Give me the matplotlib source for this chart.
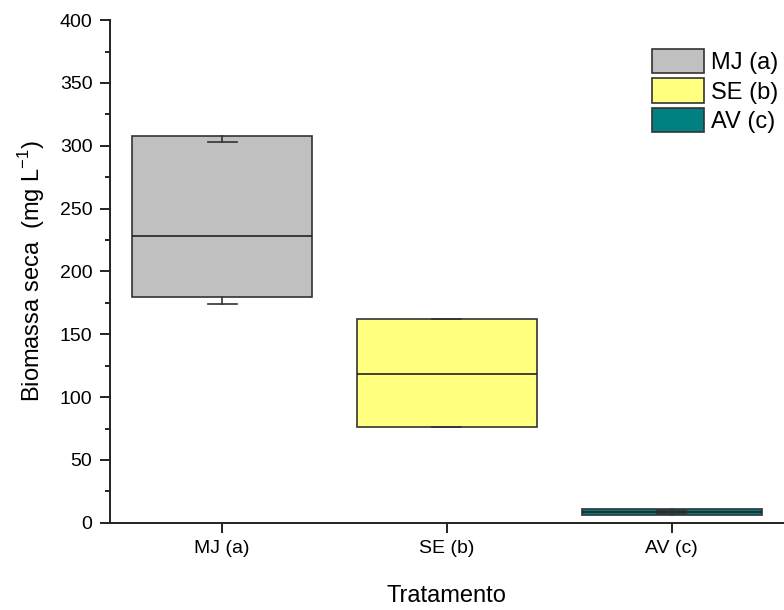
import matplotlib

matplotlib.use("Agg")
import matplotlib.pyplot as plt  # noqa: E402
from matplotlib.patches import Patch  # noqa: E402
from matplotlib.ticker import MultipleLocator  # noqa: E402

plt.rcParams["font.family"] = ["Liberation Sans", "DejaVu Sans"]
plt.rcParams["mathtext.fontset"] = "custom"
plt.rcParams["mathtext.rm"] = "Liberation Sans"

# box stats per treatment (mg/L)
labels = ["MJ (a)", "SE (b)", "AV (c)"]
q1 = [180, 76, 6]
median = [228, 118, 8.5]
q3 = [308, 162, 11]
whislo = [174, 76, 7]
whishi = [303, 162, 10]
colors = ["#c0c0c0", "#ffff80", "#008080"]

stats = [dict(label=l, q1=a, med=m, q3=b, whislo=lo, whishi=hi, fliers=[])
         for l, a, m, b, lo, hi in zip(labels, q1, median, q3, whislo, whishi)]

fig = plt.figure(figsize=(7.84, 6.10), dpi=100)
ax = fig.add_axes([0.140, 0.143, 0.860, 0.824])

bp = ax.bxp(stats, positions=[1, 2, 3], widths=0.8, patch_artist=True,
            showfliers=False,
            boxprops=dict(edgecolor="#333333", linewidth=1.2),
            medianprops=dict(color="#222222", linewidth=1.2),
            whiskerprops=dict(color="#333333", linewidth=1.2),
            capprops=dict(color="#333333", linewidth=1.2),
            capwidths=0.13)
for box, c in zip(bp["boxes"], colors):
    box.set_facecolor(c)

ax.set_xlim(0.5, 3.5)
ax.set_ylim(0, 400)
ax.yaxis.set_major_locator(MultipleLocator(50))
ax.yaxis.set_minor_locator(MultipleLocator(25))
ax.spines["top"].set_visible(False)
ax.spines["right"].set_visible(False)
for s in ("left", "bottom"):
    ax.spines[s].set_linewidth(1.4)
    ax.spines[s].set_color("#222222")
ax.tick_params(axis="both", which="major", length=7.5, width=1.4,
               labelsize=14, direction="out", color="#222222", pad=5)
ax.tick_params(axis="y", which="minor", length=3.8, width=1.4, color="#222222")
ax.tick_params(axis="x", which="minor", bottom=False)

ax.set_xlabel("Tratamento", fontsize=17, labelpad=20)
ax.set_ylabel("Biomassa seca  (mg L$^{\\mathregular{-1}}$)", fontsize=17,
              labelpad=9)

handles = [Patch(facecolor=c, edgecolor="#333333", linewidth=1.2, label=l)
           for c, l in zip(colors, labels)]
ax.legend(handles=handles, loc="upper right", bbox_to_anchor=(1.005, 0.962),
          frameon=False, fontsize=17, handlelength=2.2, handleheight=1.2,
          handletextpad=0.3, labelspacing=0.2, borderaxespad=0)

fig.savefig("out.png", dpi=100)
